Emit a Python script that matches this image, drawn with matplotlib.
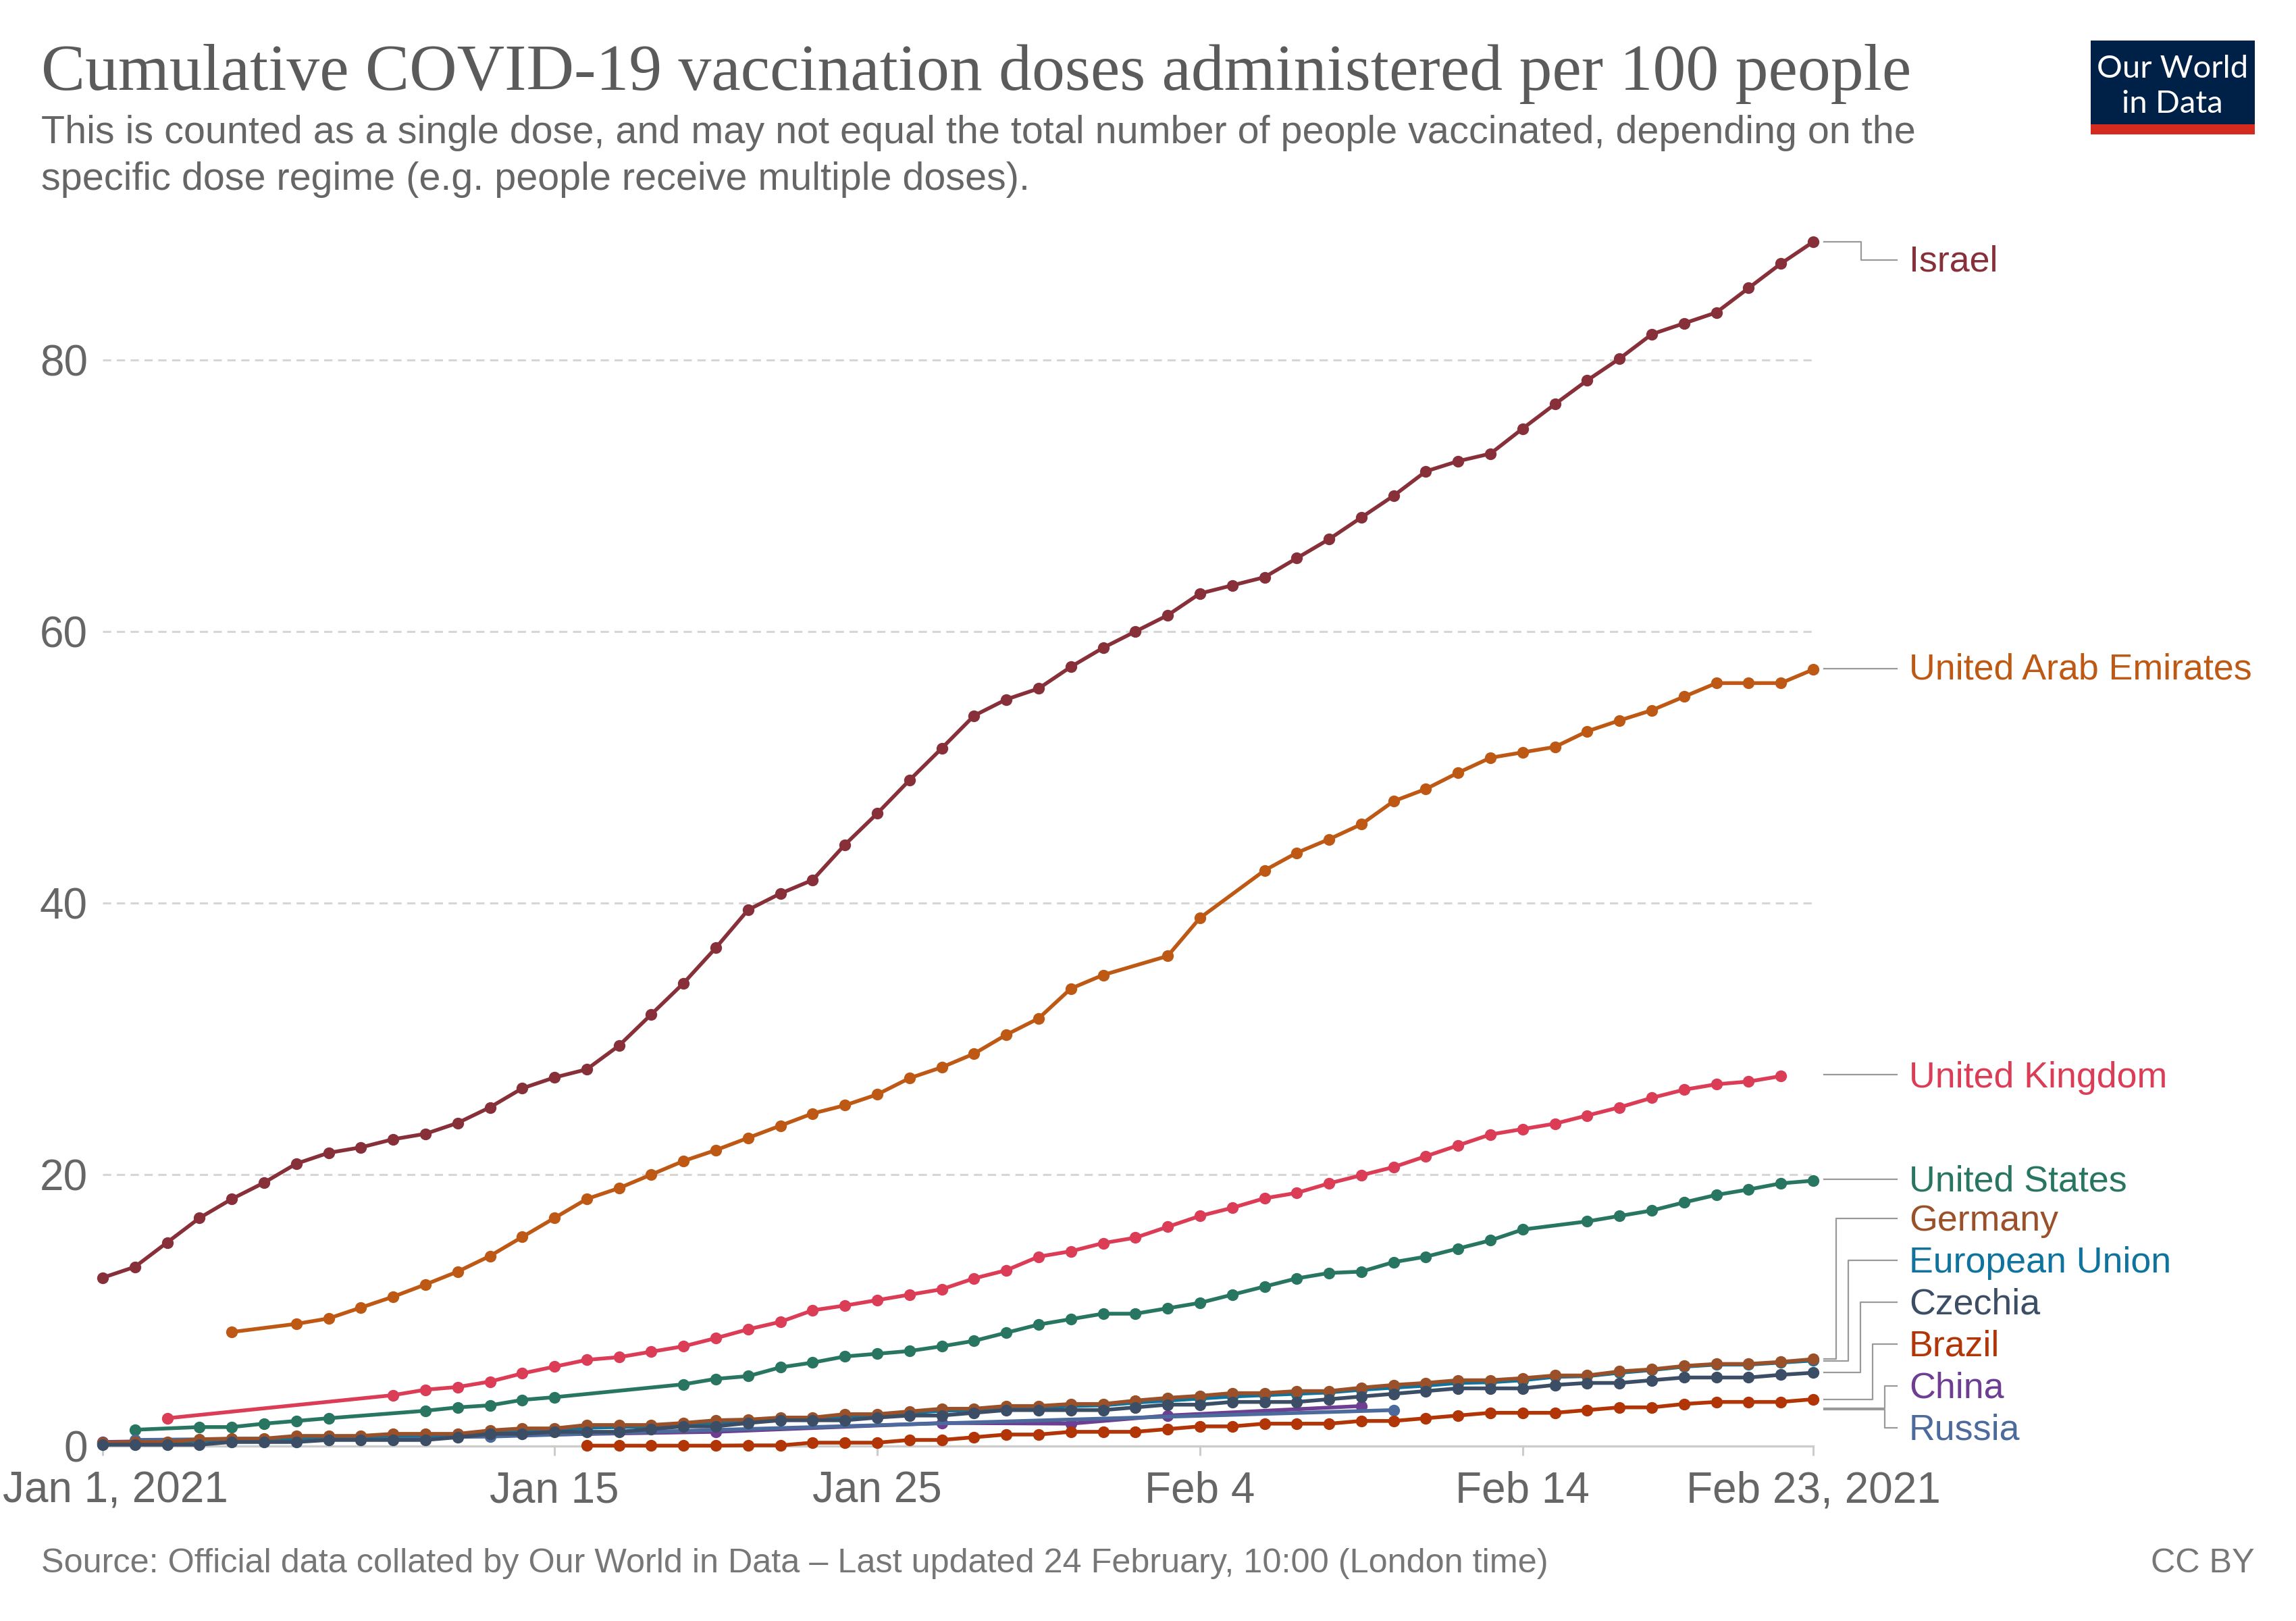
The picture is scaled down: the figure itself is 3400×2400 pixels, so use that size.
import matplotlib
matplotlib.use('Agg')
import matplotlib.pyplot as plt
from matplotlib.lines import Line2D
from matplotlib.patches import Rectangle
from matplotlib.transforms import ScaledTranslation

# day numbers count from Jan 1, 2021
tick_days = [0, 14, 24, 34, 44, 53]
tick_labels = ['Jan 1, 2021', 'Jan 15', 'Jan 25', 'Feb 4', 'Feb 14', 'Feb 23, 2021']
y_ticks = [0, 20, 40, 60, 80]

israel_days = list(range(0, 54))
israel = [12.4, 13.2, 15.0, 16.8, 18.2, 19.4, 20.8, 21.6, 22.0, 22.6, 23.0, 23.8, 24.95, 26.35,
          27.15, 27.75, 29.5, 31.8, 34.1, 36.7, 39.5, 40.7, 41.7, 44.3, 46.6, 49.05, 51.4, 53.8,
          55.0, 55.8, 57.4, 58.8, 60.0, 61.2, 62.8, 63.4, 64.0, 65.4, 66.8, 68.4, 70.0, 71.8,
          72.55, 73.1, 74.95, 76.75, 78.5, 80.1, 81.9, 82.7, 83.5, 85.3, 87.1, 88.7]

uae_days = [4] + list(range(6, 32)) + [33, 34] + list(range(36, 54))
uae = [8.4, 9.0, 9.4, 10.2, 11.0, 11.9, 12.85, 14.0, 15.4, 16.8, 18.2, 19.0, 20.0, 21.0, 21.8,
       22.7, 23.6, 24.5, 25.1, 25.9, 27.1, 27.9, 28.9, 30.3, 31.5, 33.7, 34.7, 36.1, 38.9,
       42.4, 43.7, 44.7, 45.8, 47.5, 48.4, 49.6, 50.7, 51.1, 51.5, 52.65, 53.45, 54.2, 55.2,
       56.2, 56.2, 56.2, 57.2]

uk_days = [2] + list(range(9, 53))
uk = [2.05, 3.75, 4.15, 4.35, 4.75, 5.35, 5.85, 6.35, 6.55, 6.95, 7.35, 7.95, 8.6, 9.15, 10.0,
      10.35, 10.75, 11.15, 11.55, 12.35, 12.95, 13.95, 14.35, 14.95, 15.35, 16.15, 16.95, 17.55,
      18.25, 18.65, 19.35, 19.95, 20.55, 21.35, 22.15, 22.95, 23.35, 23.75, 24.35, 24.95, 25.65,
      26.25, 26.65, 26.85, 27.25]

us_days = [1, 3, 4, 5, 6, 7, 10, 11, 12, 13, 14] + list(range(18, 45)) + list(range(46, 54))
us = [1.2, 1.4, 1.4, 1.65, 1.85, 2.05, 2.6, 2.85, 3.0, 3.4, 3.6, 4.55, 4.95, 5.15, 5.8, 6.15,
      6.6, 6.8, 7.0, 7.35, 7.75, 8.35, 8.95, 9.35, 9.75, 9.75, 10.15, 10.55, 11.15, 11.75, 12.35,
      12.75, 12.85, 13.55, 13.95, 14.55, 15.15, 15.95, 16.55, 16.95, 17.35, 17.95, 18.5, 18.9,
      19.35, 19.55]

germany_days = list(range(0, 54))
germany = [0.25, 0.3, 0.3, 0.5, 0.55, 0.55, 0.75, 0.75, 0.75, 0.9, 0.9, 0.9, 1.15, 1.3, 1.3, 1.55,
           1.55, 1.55, 1.7, 1.9, 1.95, 2.1, 2.1, 2.35, 2.35, 2.55, 2.75, 2.75, 2.95, 2.95, 3.1,
           3.1, 3.35, 3.55, 3.7, 3.9, 3.9, 4.05, 4.05, 4.3, 4.5, 4.65, 4.85, 4.85, 5.0, 5.2, 5.2,
           5.5, 5.65, 5.9, 6.05, 6.05, 6.2, 6.4]

eu_days = list(range(0, 54))
eu = [0.15, 0.2, 0.2, 0.4, 0.45, 0.45, 0.6, 0.65, 0.65, 0.8, 0.8, 0.8, 1.05, 1.15, 1.2, 1.35, 1.4,
      1.45, 1.6, 1.75, 1.85, 1.95, 2.0, 2.2, 2.25, 2.45, 2.6, 2.65, 2.8, 2.85, 2.95, 3.0, 3.2,
      3.35, 3.5, 3.65, 3.75, 3.85, 3.95, 4.15, 4.3, 4.45, 4.65, 4.7, 4.85, 5.1, 5.15, 5.4, 5.6,
      5.85, 6.0, 6.0, 6.15, 6.3]

czechia_days = list(range(0, 54))
czechia = [0.1, 0.1, 0.1, 0.1, 0.3, 0.3, 0.3, 0.45, 0.45, 0.45, 0.45, 0.65, 0.9, 0.9, 1.05, 1.05,
           1.05, 1.25, 1.45, 1.45, 1.7, 1.9, 1.9, 1.9, 2.1, 2.25, 2.25, 2.45, 2.65, 2.65, 2.65,
           2.65, 2.85, 3.05, 3.05, 3.25, 3.25, 3.25, 3.45, 3.65, 3.85, 4.05, 4.25, 4.25, 4.25,
           4.5, 4.65, 4.65, 4.85, 5.05, 5.05, 5.05, 5.25, 5.4]

brazil_days = list(range(15, 54))
brazil = [0.03, 0.03, 0.03, 0.03, 0.03, 0.05, 0.05, 0.25, 0.25, 0.25, 0.45, 0.45, 0.65, 0.85, 0.85,
          1.05, 1.05, 1.05, 1.25, 1.45, 1.45, 1.65, 1.65, 1.65, 1.85, 1.85, 2.05, 2.25, 2.45,
          2.45, 2.45, 2.65, 2.85, 2.85, 3.1, 3.25, 3.25, 3.25, 3.45]

china_days = [0, 19, 26, 30, 33, 39]
china = [0.3, 1.05, 1.7, 1.65, 2.25, 2.95]

russia_days = [1, 12, 40]
russia = [0.45, 0.7, 2.65]

# drawn back to front
series = [
    (israel_days, israel, '#883039'),
    (uae_days, uae, '#BE5915'),
    (uk_days, uk, '#DB3C56'),
    (us_days, us, '#287561'),
    (china_days, china, '#6D3E91'),
    (russia_days, russia, '#4C6A9C'),
    (eu_days, eu, '#0F739E'),
    (germany_days, germany, '#9A5129'),
    (czechia_days, czechia, '#3C4E66'),
    (brazil_days, brazil, '#B13507'),
]

W, H = 3400, 2400
fig = plt.figure(figsize=(W / 100, H / 100), dpi=100, facecolor='white')
plt.rcParams['font.family'] = ['Liberation Sans', 'DejaVu Sans']

# axes box in pixels of the final image
left, right, bottom, top = 152, 2685, 2141, 332
ax = fig.add_axes([left / W, 1 - bottom / H, (right - left) / W, (bottom - top) / H])
ax.set_xlim(0, 53)
ax.set_ylim(0, 90)

for side in ['top', 'right', 'left']:
    ax.spines[side].set_visible(False)
ax.spines['bottom'].set_color('#cccccc')
ax.spines['bottom'].set_linewidth(2.4)

ax.set_yticks(y_ticks)
ax.set_yticklabels([str(v) for v in y_ticks], fontsize=46, color='#666666')
ax.tick_params(axis='y', length=0, pad=16)
ax.set_xticks(tick_days)
ax.set_xticklabels(tick_labels, fontsize=46, color='#666666')
ax.tick_params(axis='x', length=10, width=2.2, color='#cccccc', pad=16)

# the first date label sits to the right of its tick so it stays on the page
first = ax.get_xticklabels()[0]
first.set_transform(first.get_transform() + ScaledTranslation(19 / 100, 0, fig.dpi_scale_trans))

for v in y_ticks[1:]:
    ax.axhline(v, color='#d6d6d6', lw=2.2, dashes=(4.0, 2.7), zorder=1)

for i, (days, vals, col) in enumerate(series):
    ax.plot(days, vals, color=col, lw=4.0, marker='o', ms=12.5, mew=0, clip_on=False, zorder=3 + i)


def px(x, y):
    return x / W, 1 - y / H


def leader(points):
    xs, ys = zip(*[px(x, y) for x, y in points])
    fig.add_artist(Line2D(xs, ys, color='#999999', lw=1.6))


# line labels: name, colour, baseline in pixels
labels = [
    ('Israel', '#883039', 402),
    ('United Arab Emirates', '#BE5915', 1006),
    ('United Kingdom', '#DB3C56', 1610),
    ('United States', '#287561', 1764),
    ('Germany', '#9A5129', 1822),
    ('European Union', '#0F739E', 1884),
    ('Czechia', '#3C4E66', 1945),
    ('Brazil', '#B13507', 2008),
    ('China', '#6D3E91', 2070),
    ('Russia', '#4C6A9C', 2132),
]
for name, col, base in labels:
    x, y = px(2827, base)
    fig.text(x, y, name, color=col, fontsize=38.7, va='baseline', ha='left')

leader([(2701, 358), (2756, 358), (2756, 385), (2809, 385)])
leader([(2701, 990), (2809, 990)])
leader([(2701, 1591), (2809, 1591)])
leader([(2701, 1746), (2809, 1746)])
leader([(2701, 2012), (2719, 2012), (2719, 1804), (2809, 1804)])
leader([(2701, 2015), (2737, 2015), (2737, 1866), (2809, 1866)])
leader([(2701, 2032), (2755, 2032), (2755, 1928), (2809, 1928)])
leader([(2701, 2072), (2773, 2072), (2773, 1990), (2809, 1990)])
leader([(2701, 2085), (2791, 2085), (2791, 2052), (2809, 2052)])
leader([(2701, 2087), (2791, 2087), (2791, 2114), (2809, 2114)])

# header and footer
x, y = px(61, 133)
fig.text(x, y, 'Cumulative COVID-19 vaccination doses administered per 100 people',
         family='Liberation Serif', fontsize=70.3, color='#5b5b5b', va='baseline')
x, y = px(61, 212)
fig.text(x, y, 'This is counted as a single dose, and may not equal the total number of people vaccinated, depending on the',
         fontsize=41.45, color='#666666', va='baseline')
x, y = px(61, 281)
fig.text(x, y, 'specific dose regime (e.g. people receive multiple doses).',
         fontsize=41.45, color='#666666', va='baseline')
x, y = px(61, 2328)
fig.text(x, y, 'Source: Official data collated by Our World in Data \u2013 Last updated 24 February, 10:00 (London time)',
         fontsize=36.3, color='#777777', va='baseline')
x, y = px(3339, 2328)
fig.text(x, y, 'CC BY', fontsize=36.3, color='#777777', va='baseline', ha='right')

# logo
x, y = px(3096, 199)
fig.add_artist(Rectangle((x, y), 243 / W, 139 / H, transform=fig.transFigure, color='#002147', lw=0))
fig.add_artist(Rectangle((x, y), 243 / W, 15 / H, transform=fig.transFigure, color='#D42B21', lw=0))
x, y = px(3217, 115)
fig.text(x, y, 'Our World', family='Lato', fontsize=34, color='white', ha='center', va='baseline')
x, y = px(3217, 167)
fig.text(x, y, 'in Data', family='Lato', fontsize=34, color='white', ha='center', va='baseline')

fig.savefig('out.png', dpi=100)
